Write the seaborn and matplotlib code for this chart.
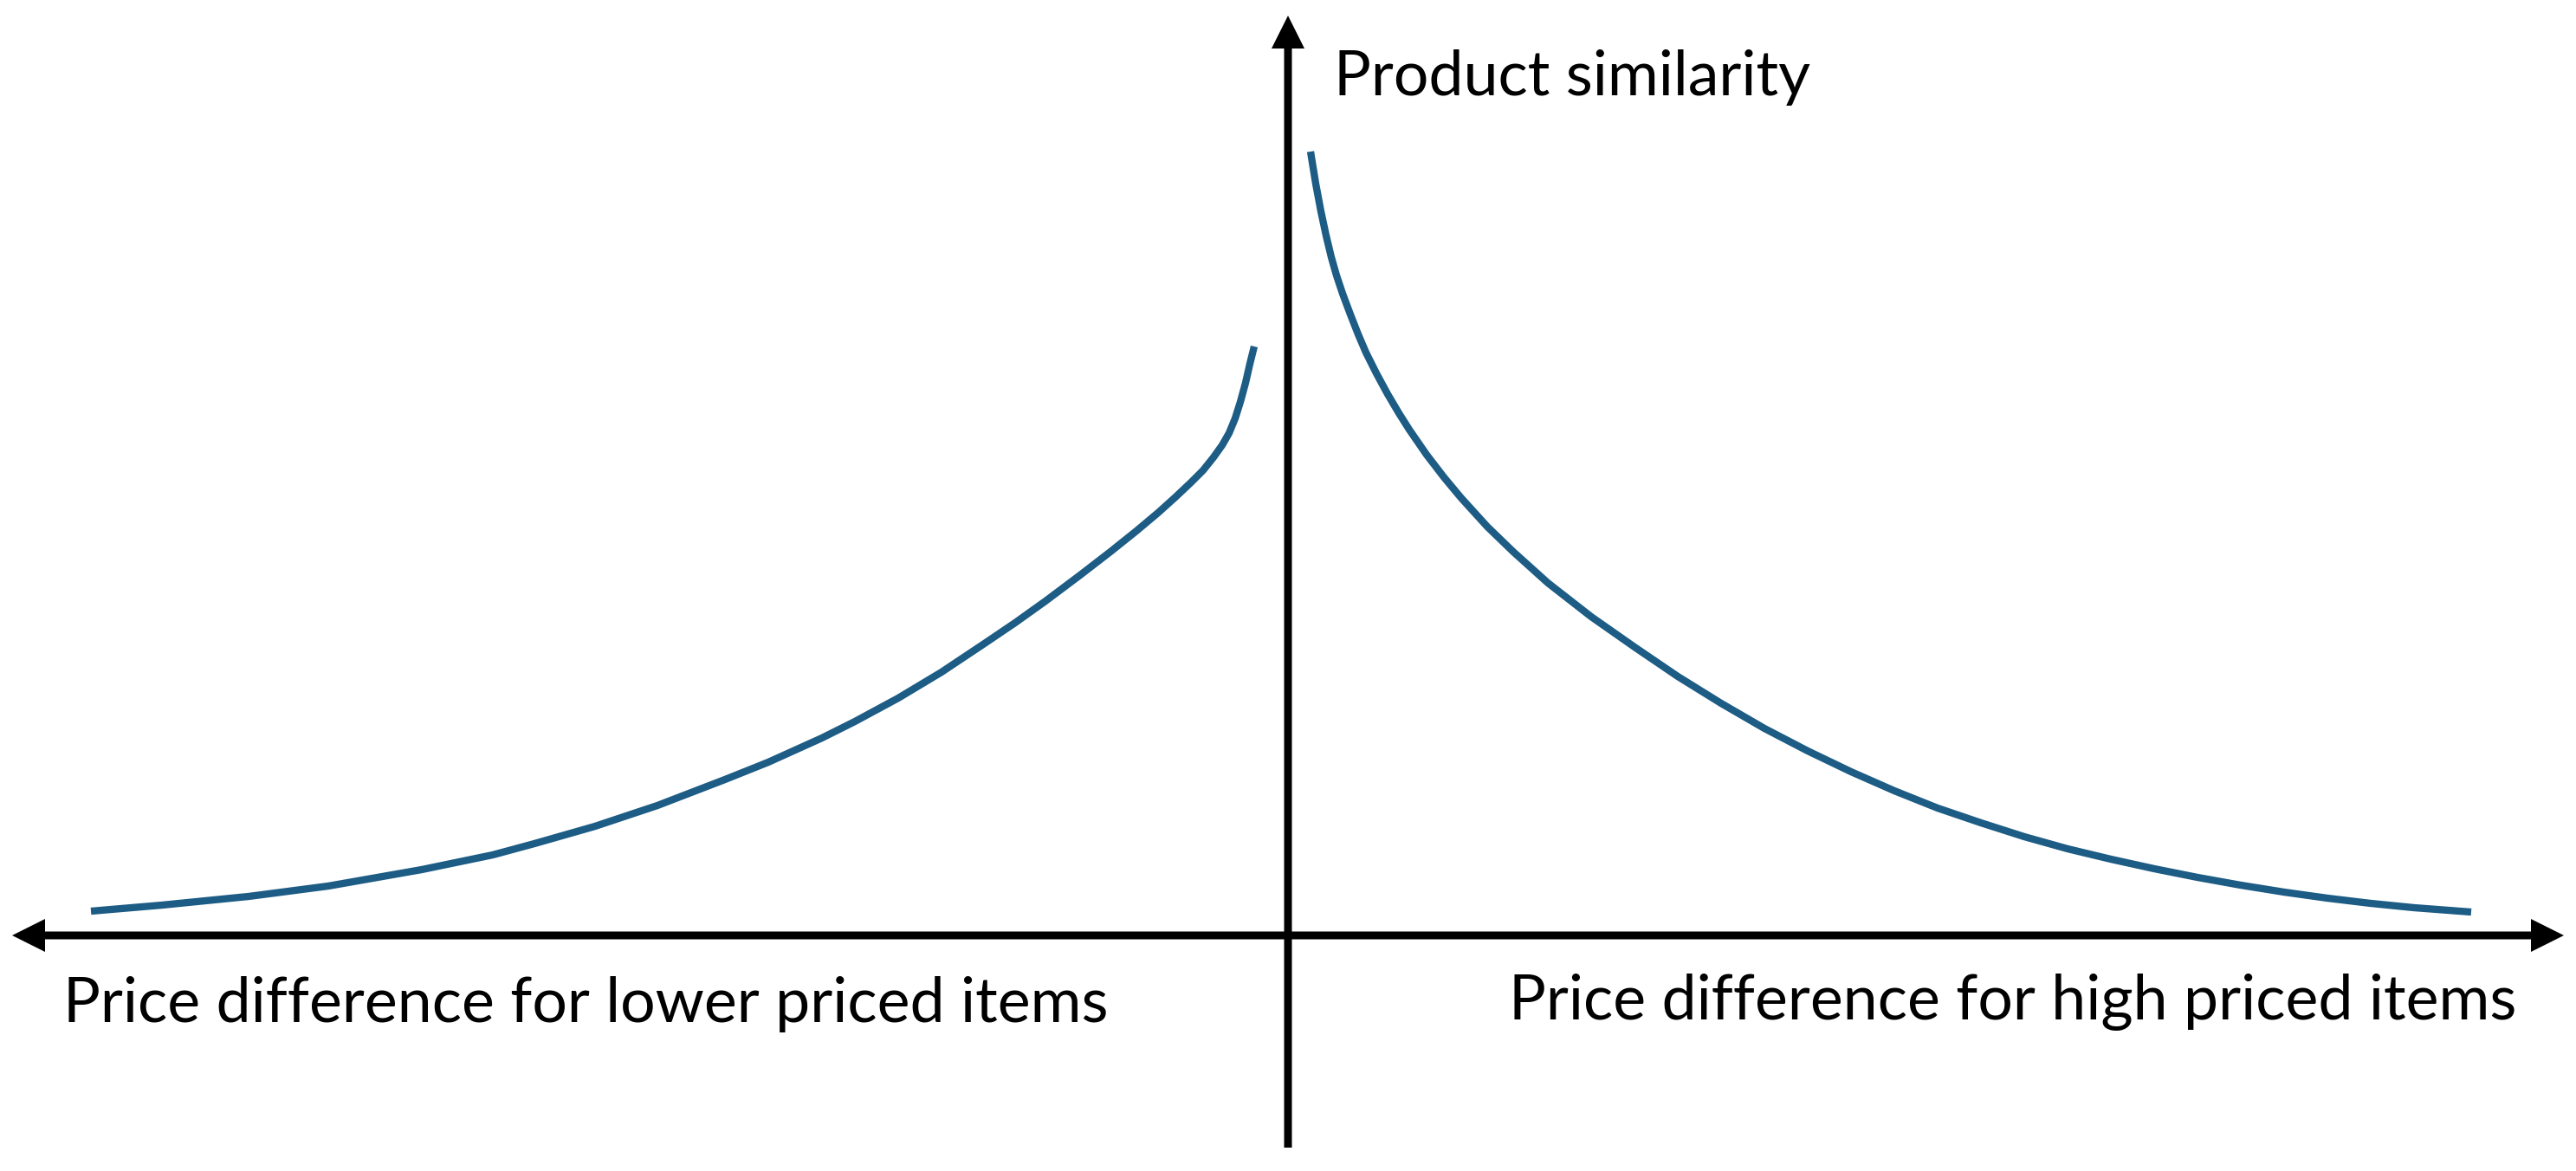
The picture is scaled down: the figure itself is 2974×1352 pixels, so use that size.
import numpy as np
import pandas as pd
import seaborn as sns
import matplotlib
matplotlib.use("Agg")
import matplotlib.pyplot as plt
from matplotlib.patches import FancyArrow

# ---- data (x = price difference, y = product similarity) ----
left_x = [-1382, -1300, -1200, -1108, -1000, -918, -870, -800, -728, -650, -600, -538,
          -500, -450, -400, -349, -315, -280, -240, -205, -175, -150, -130, -112, -98,
          -86, -76, -68, -61, -55, -49, -44, -39]
left_y = [28, 35, 45, 57, 76, 93, 106, 126, 150, 180, 200, 228,
          247, 274, 304, 338, 361, 386, 416, 443, 467, 488, 506, 523, 537,
          552, 566, 580, 597, 616, 638, 660, 680]

right_x = [26, 32, 38, 44, 50, 56, 63, 72, 81, 90, 102, 115, 128, 140, 160, 180, 200, 230,
           260, 300, 350, 400, 450, 500, 550, 600, 650, 700, 750, 800, 850, 900, 950,
           1000, 1050, 1100, 1150, 1200, 1250, 1300, 1366]
right_y = [905, 868, 836, 808, 783, 762, 741, 717, 694, 673, 649, 625, 603, 584, 555, 529, 505, 472,
           443, 407, 368, 333, 299, 268, 239, 213, 189, 167, 147, 130, 114, 100, 88,
           77, 67, 58, 50, 43, 37, 32, 27]

y_label = "Product similarity"
left_label = "Price difference for lower priced items"
right_label = "Price difference for high priced items"

curve_color = "#1d5c84"

df = pd.concat([
    pd.DataFrame({"x": left_x, "y": left_y, "side": "lower"}),
    pd.DataFrame({"x": right_x, "y": right_y, "side": "higher"}),
])

sns.set_theme(style="white")
plt.rcParams["font.family"] = ["Lato", "DejaVu Sans"]

W, H = 2974, 1352
ox, oy = 1487, 1080  # origin in pixels
fig = plt.figure(figsize=(W / 100, H / 100), dpi=100)
ax = fig.add_axes([0, 0, 1, 1])
ax.set_xlim(-ox, W - ox)
ax.set_ylim(oy - H, oy)
ax.set_axis_off()

sns.lineplot(data=df, x="x", y="y", units="side", estimator=None, sort=False,
             color=curve_color, linewidth=6.0, ax=ax, legend=False,
             solid_capstyle="butt", solid_joinstyle="round")

# axes arrows
aw, hw, hl = 9, 38, 38
for dx in (-(ox - 14), (2960 - ox)):
    ax.add_patch(FancyArrow(0, 0, dx, 0, width=aw, head_width=hw, head_length=hl,
                            length_includes_head=True, color="black", lw=0))
ax.add_patch(FancyArrow(0, oy - 1325, 0, (1325 - 18), width=aw, head_width=hw,
                        head_length=hl, length_includes_head=True, color="black", lw=0))

# text, fitted to the measured width
fig.canvas.draw()
renderer = fig.canvas.get_renderer()
t = ax.text(-ox + 73, oy - 1180, left_label, fontsize=50, ha="left", va="baseline", color="black")
w = t.get_window_extent(renderer).width
fs = 50 * 1205 / w
t.set_fontsize(fs)
ax.text(1742 - ox, oy - 1177, right_label, fontsize=fs, ha="left", va="baseline", color="black")
ax.text(1540 - ox, oy - 110, y_label, fontsize=fs, ha="left", va="baseline", color="black")

fig.savefig("out.png", dpi=100, facecolor="white")
